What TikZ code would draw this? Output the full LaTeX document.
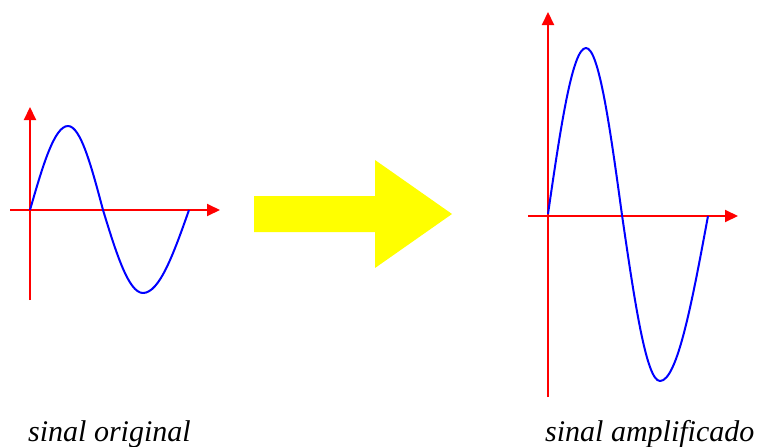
\documentclass[tikz,border=0pt]{standalone}
\usepackage{fontspec}
\setmainfont{Liberation Serif}
\usetikzlibrary{arrows.meta,positioning}
\definecolor{axisred}{HTML}{FF0000}
\definecolor{waveblue}{HTML}{0000FF}
\definecolor{bigyellow}{HTML}{FFFF00}
\begin{document}
\begin{tikzpicture}[
  x=1pt, y=-1pt,
  axis/.style={draw=axisred, line width=2pt, -{Triangle[length=13pt,width=12pt]}},
  wave/.style={draw=waveblue, line width=2pt, line join=round},
  caption/.style={anchor=base west, inner sep=0pt, font=\fontsize{30}{36}\selectfont\itshape}
]
\useasboundingbox (0,0) rectangle (758,447);

% Original signal: axes
\coordinate (origL) at (10,210);
\coordinate (origR) at (220,210);
\coordinate (origB) at (30,300);
\coordinate (origT) at (30,107);
\draw[axis] (origL) -- (origR);
\draw[axis] (origB) -- (origT);

% Original signal: one period
\draw[wave] (30,210) sin (68,126) cos (103,210) sin (143,293) cos (189,210);

% Big yellow arrow between the two plots
\fill[bigyellow] (254,196) -- (375,196) -- (375,160) -- (452,214)
  -- (375,268) -- (375,232) -- (254,232) -- cycle;

% Amplified signal: axes
\coordinate (ampL) at (528,216);
\coordinate (ampR) at (738,216);
\coordinate (ampB) at (548,397);
\coordinate (ampT) at (548,12);
\draw[axis] (ampL) -- (ampR);
\draw[axis] (ampB) -- (ampT);

% Amplified signal: one period
\draw[wave] (548,214) sin (586,48) cos (622,215) sin (660,381) cos (708,216);

% Captions
\node[caption] (capOrig) at (28,441) {sinal original};
\node[caption] (capAmp) at (545,441) {sinal amplificado};

\end{tikzpicture}
\end{document}
